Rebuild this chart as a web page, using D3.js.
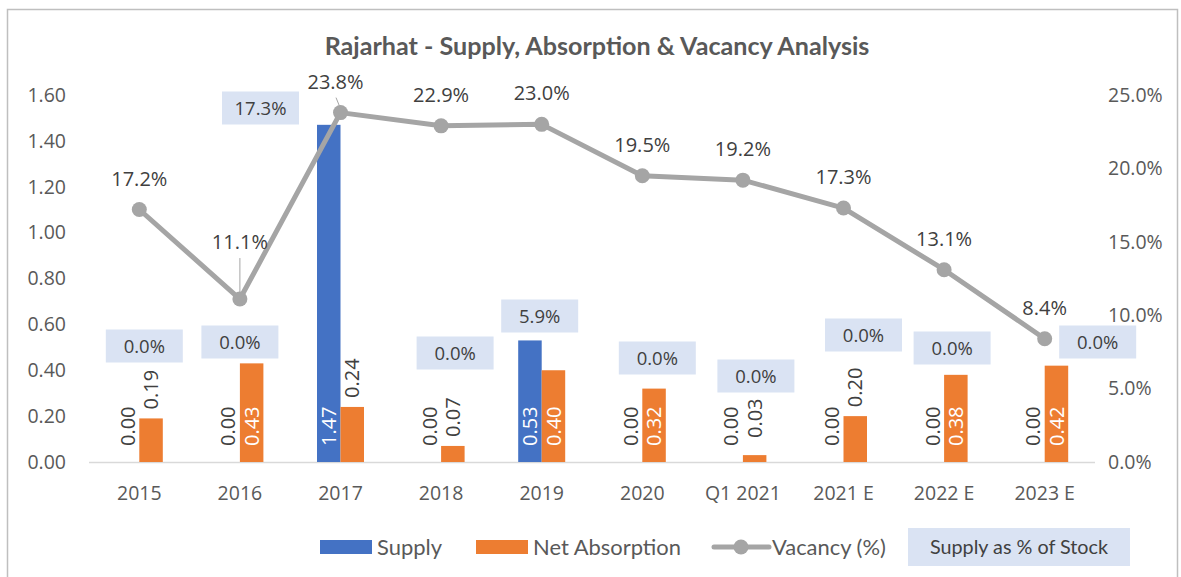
<!DOCTYPE html>
<html><head><meta charset="utf-8">
<script src="https://cdn.jsdelivr.net/npm/d3@7/dist/d3.min.js"></script>
<style>
html,body{margin:0;padding:0;background:#fff;}
svg{display:block;}
</style></head>
<body>
<svg id="chart" width="1181" height="577"></svg>
<script>
// ---- data ----
const categories = ["2015","2016","2017","2018","2019","2020","Q1 2021","2021 E","2022 E","2023 E"];
const supply = [0.00,0.00,1.47,0.00,0.53,0.00,0.00,0.00,0.00,0.00];
const netAbsorption = [0.19,0.43,0.24,0.07,0.40,0.32,0.03,0.20,0.38,0.42];
const vacancy = [17.2,11.1,23.8,22.9,23.0,19.5,19.2,17.3,13.1,8.4];
const supplyPctStock = [0.0,0.0,17.3,0.0,5.9,0.0,0.0,0.0,0.0,0.0];
const leftTicks = [0,0.2,0.4,0.6,0.8,1.0,1.2,1.4,1.6];
const rightTicks = [0,5,10,15,20,25];
const title = "Rajarhat - Supply, Absorption & Vacancy Analysis";

// ---- layout (label placement nudges, px) ----
const pctBoxNudge = [[5,-116],[0,-120],[-80,-354],[14,-109],[-2,-146],[15,-104],[13,-86],[20,-127],[8,-114],[53,-120]];
const vacLabelNudge = [[0,0],[0,-26],[-5,0],[0,0],[0,0],[0,0],[0,0],[0,0],[0,0],[0,0]];
const vacLeader = [false,true,true,false,false,false,false,false,false,false];

const C = {blue:"#4472C4", orange:"#ED7D31", gray:"#A5A5A5", box:"#DAE3F3", text:"#404040", axis:"#595959"};
const svg = d3.select("#chart");
const L = 89, R = 1095, T = 95, B = 462;

// outer border
svg.append("rect").attr("x",7.5).attr("y",9.5).attr("width",1170).attr("height",600)
  .attr("fill","none").attr("stroke","#BFBFBF").attr("stroke-width",1.5);

const x = d3.scaleBand().domain(categories).range([L,R]).padding(0);
const yL = d3.scaleLinear().domain([0,1.6]).range([B,T]);
const yR = d3.scaleLinear().domain([0,25]).range([B,T]);
const barW = 23.5;
const series = d3.scaleBand().domain(["supply","net"]).range([-barW, barW]);
const cx = c => x(c) + x.bandwidth()/2;

function fit(sel, target){
  const n = sel.node(); let fs = parseFloat(sel.attr("font-size"));
  const w = n.getComputedTextLength(); if (w>0) sel.attr("font-size", (fs*target/w).toFixed(2));
}

// title
const tt = svg.append("text").attr("x",597).attr("y",55).attr("text-anchor","middle")
  .attr("font-family","Lato").attr("font-weight","bold").attr("font-size",22)
  .attr("fill",C.axis).text(title);
fit(tt, 545);

// axes
const axL = d3.axisLeft(yL).tickValues(leftTicks).tickFormat(d3.format(".2f")).tickSize(0).tickPadding(0);
const gL = svg.append("g").attr("transform",`translate(66,0)`).call(axL);
const axRt = d3.axisRight(yR).tickValues(rightTicks).tickFormat(d=>d.toFixed(1)+"%").tickSize(0).tickPadding(0);
const gR = svg.append("g").attr("transform",`translate(1108,0)`).call(axRt);
const axB = d3.axisBottom(x).tickSize(0).tickPadding(0);
const gB = svg.append("g").attr("transform",`translate(0,${B+31})`).call(axB);
[gL,gR,gB].forEach(g=>{
  g.select(".domain").remove();
  g.selectAll("text").attr("font-family","Open Sans").attr("font-size",19.5).attr("fill",C.axis);
});
gB.selectAll("text").attr("dy","0.35em").attr("font-size",19.5);

// zero line
svg.append("line").attr("x1",L).attr("x2",R).attr("y1",B+0.5).attr("y2",B+0.5)
  .attr("stroke","#D9D9D9").attr("stroke-width",1.5);

// bars
const rows = categories.map((c,i)=>({c,i,s:supply[i],n:netAbsorption[i]}));
const bars = [];
rows.forEach(r=>{
  bars.push({c:r.c,key:"supply",v:r.s,color:C.blue});
  bars.push({c:r.c,key:"net",v:r.n,color:C.orange});
});
svg.append("g").selectAll("rect").data(bars.filter(b=>b.v>0)).join("rect")
  .attr("x",b=>cx(b.c)+series(b.key)).attr("width",series.bandwidth())
  .attr("y",b=>yL(b.v)).attr("height",b=>B-yL(b.v)).attr("fill",b=>b.color);

// bar labels (rotated)
svg.append("g").selectAll("text").data(bars).join("text")
  .attr("transform",b=>{
    const h = B - yL(b.v);
    const inside = h >= 60 || b.v===0;
    const yy = inside ? B-16 : Math.min(yL(b.v)-9, B-24);
    return `translate(${cx(b.c)+series(b.key)+series.bandwidth()/2},${yy}) rotate(-90)`;
  })
  .attr("dy","0.36em").attr("text-anchor","start")
  .attr("font-family","Open Sans").attr("font-size",20)
  .attr("fill",b=>(B-yL(b.v))>=60 ? "#FFFFFF" : C.text)
  .text(b=>b.v.toFixed(2));

// vacancy line
const line = d3.line().x((d,i)=>cx(categories[i])).y(d=>yR(d));
svg.append("path").datum(vacancy).attr("d",line).attr("fill","none")
  .attr("stroke",C.gray).attr("stroke-width",5).attr("stroke-linejoin","round").attr("stroke-linecap","round");
svg.append("g").selectAll("circle").data(vacancy).join("circle")
  .attr("cx",(d,i)=>cx(categories[i])).attr("cy",d=>yR(d)).attr("r",7.5).attr("fill",C.gray);

// vacancy labels
vacancy.forEach((v,i)=>{
  const px = cx(categories[i]), py = yR(v);
  const lx = px + vacLabelNudge[i][0], ly = py - 24 + vacLabelNudge[i][1];
  if (vacLeader[i]) {
    svg.append("line").attr("x1",lx+ (px-lx)*0.1).attr("y1",ly+9).attr("x2",px).attr("y2",py-4)
      .attr("stroke",C.gray).attr("stroke-width",1);
  }
  svg.append("text").attr("x",lx).attr("y",ly).attr("text-anchor","middle")
    .attr("font-family","Open Sans").attr("font-size",20).attr("fill",C.text).text(v.toFixed(1)+"%");
});

// supply % of stock boxes
const bw = 77, bh = 33;
supplyPctStock.forEach((v,i)=>{
  const bx = cx(categories[i]) + pctBoxNudge[i][0], by = B + pctBoxNudge[i][1];
  svg.append("rect").attr("x",bx-bw/2).attr("y",by-bh/2).attr("width",bw).attr("height",bh).attr("fill",C.box);
  svg.append("text").attr("x",bx).attr("y",by).attr("dy","0.36em").attr("text-anchor","middle")
    .attr("font-family","Open Sans").attr("font-size",18.5).attr("fill",C.text).text(v.toFixed(1)+"%");
});

// legend
const lg = svg.append("g").attr("font-family","Lato").attr("fill",C.axis);
const ly0 = 547;
lg.append("rect").attr("x",320).attr("y",ly0-7).attr("width",52).attr("height",14).attr("fill",C.blue);
const t1 = lg.append("text").attr("x",377).attr("y",ly0).attr("dy","0.35em").attr("font-size",22).attr("fill",C.axis).text("Supply");
fit(t1,65);
lg.append("rect").attr("x",476).attr("y",ly0-7).attr("width",52).attr("height",14).attr("fill",C.orange);
const t2 = lg.append("text").attr("x",533).attr("y",ly0).attr("dy","0.35em").attr("font-size",22).attr("fill",C.axis).text("Net Absorption");
t2.attr("font-size", t1.attr("font-size"));
lg.append("line").attr("x1",714).attr("x2",769).attr("y1",ly0).attr("y2",ly0).attr("stroke",C.gray).attr("stroke-width",5).attr("stroke-linecap","round");
lg.append("circle").attr("cx",741).attr("cy",ly0).attr("r",7.5).attr("fill",C.gray);
lg.append("text").attr("x",772).attr("y",ly0).attr("dy","0.35em").attr("font-size",t1.attr("font-size")).attr("fill",C.axis).text("Vacancy (%)");
lg.append("rect").attr("x",908).attr("y",528).attr("width",222).attr("height",38).attr("fill",C.box);
const t4 = lg.append("text").attr("x",1019).attr("y",ly0).attr("dy","0.35em").attr("text-anchor","middle").attr("font-size",19).attr("fill",C.text).text("Supply as % of Stock");
fit(t4,178);
</script>
</body></html>
